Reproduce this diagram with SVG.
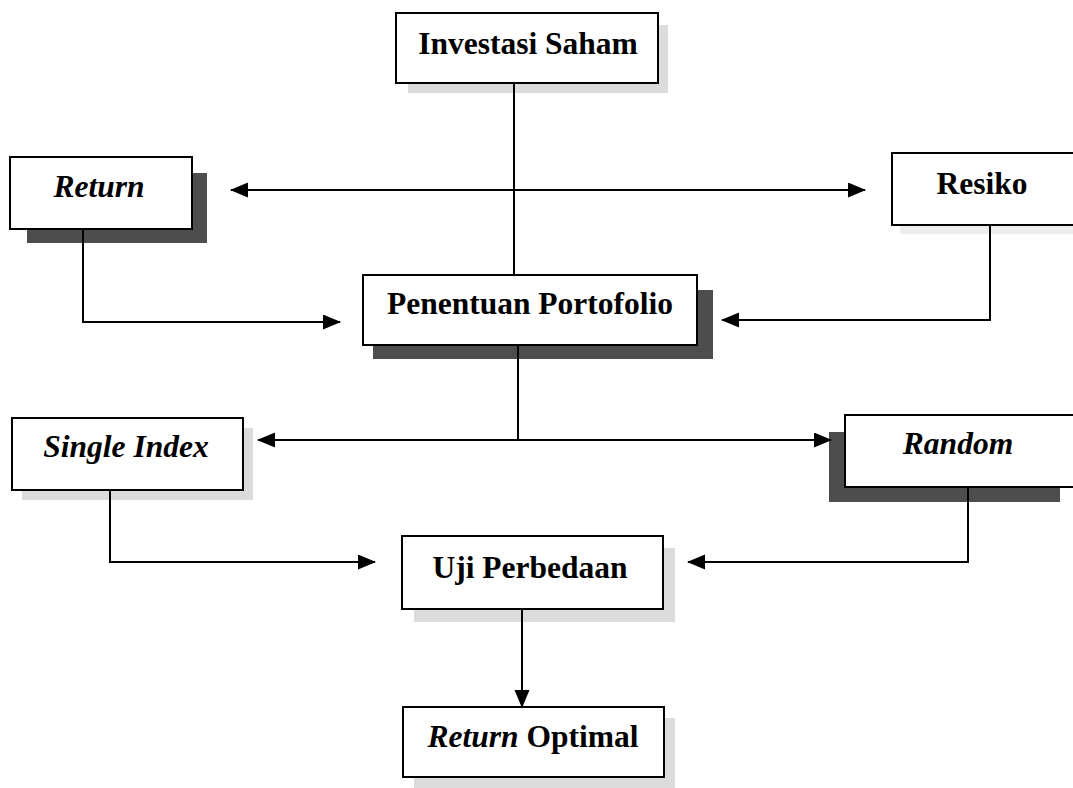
<svg xmlns="http://www.w3.org/2000/svg" width="1073" height="788" viewBox="0 0 1073 788">
<style>
.box{fill:#fff;stroke:#000;stroke-width:2}
.dark{fill:#4d4d4d}
.light{fill:#dcdcdc}
.t{font-family:"Liberation Serif","Times New Roman",serif;font-size:31.5px;font-weight:bold;text-anchor:middle;fill:#000}
.i{font-style:italic}
.c{fill:none;stroke:#000;stroke-width:2}
</style>
<defs>
<marker id="ah" markerUnits="userSpaceOnUse" markerWidth="20" markerHeight="16" refX="17" refY="7.5" orient="auto-start-reverse">
<path d="M0,0 L18,7.5 L0,15 Z" fill="#000"/>
</marker>
</defs>
<rect width="1073" height="788" fill="#fff"/>

<g id="investasi">
<rect class="light" x="408" y="25" width="260" height="68"/>
<rect class="box" x="396" y="13" width="262" height="70"/>
<text class="t" x="528" y="54">Investasi Saham</text>
</g>

<g id="return">
<rect class="dark" x="27" y="173" width="180" height="70"/>
<rect class="box" x="10" y="157" width="182" height="72"/>
<text class="t i" x="99" y="197">Return</text>
</g>

<g id="resiko">
<rect class="light" x="900" y="160" width="180" height="74" opacity="0.5"/>
<rect class="box" x="892" y="153" width="190" height="72"/>
<text class="t" x="982" y="194">Resiko</text>
</g>

<g id="penentuan">
<rect class="dark" x="373" y="290" width="340" height="69"/>
<rect class="box" x="363" y="275" width="334" height="70"/>
<text class="t" x="530" y="314">Penentuan Portofolio</text>
</g>

<g id="single">
<rect class="light" x="22" y="428" width="231" height="72"/>
<rect class="box" x="12" y="418" width="231" height="72"/>
<text class="t i" x="126" y="457">Single Index</text>
</g>

<g id="random">
<rect class="dark" x="829" y="432" width="231" height="70"/>
<rect class="box" x="845" y="415" width="240" height="72"/>
<text class="t i" x="958" y="454">Random</text>
</g>

<g id="uji">
<rect class="light" x="414" y="548" width="261" height="74"/>
<rect class="box" x="402" y="536" width="261" height="73"/>
<text class="t" x="530" y="578">Uji Perbedaan</text>
</g>

<g id="optimal">
<rect class="light" x="414" y="718" width="261" height="70"/>
<rect class="box" x="403" y="707" width="261" height="70"/>
<text class="t" x="533" y="747"><tspan class="i">Return</tspan> Optimal</text>
</g>

<g id="connectors">
<path class="c" d="M514,84 V275"/>
<path class="c" d="M231,190 H865" marker-start="url(#ah)" marker-end="url(#ah)"/>
<path class="c" d="M83,230 V322 H340" marker-end="url(#ah)"/>
<path class="c" d="M990,226 V320 H722" marker-end="url(#ah)"/>
<path class="c" d="M518,346 V440"/>
<path class="c" d="M258,440 H831" marker-start="url(#ah)" marker-end="url(#ah)"/>
<path class="c" d="M110,491 V562 H375" marker-end="url(#ah)"/>
<path class="c" d="M968,488 V562 H688" marker-end="url(#ah)"/>
<path class="c" d="M522,610 V707" marker-end="url(#ah)"/>
</g>
</svg>
